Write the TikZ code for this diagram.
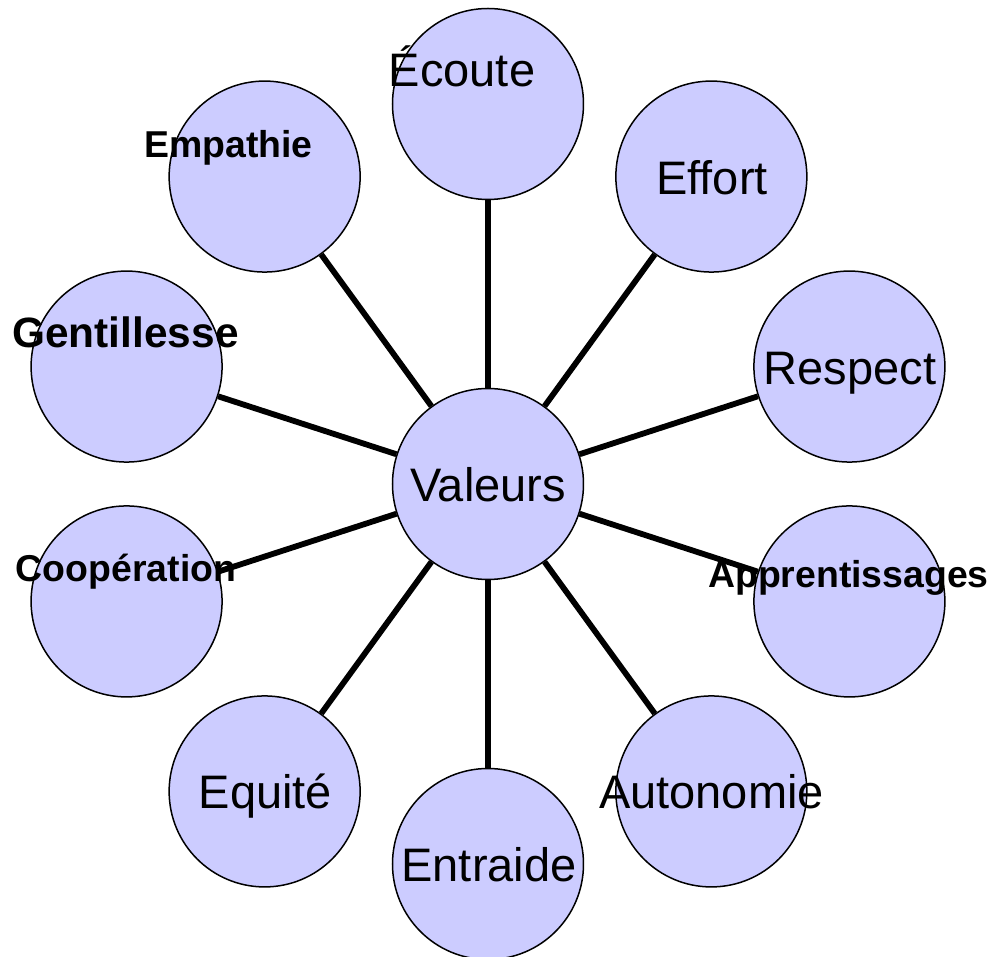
\documentclass[tikz,border=0pt]{standalone}
\usepackage{fontspec}
\setmainfont{Liberation Sans}
\definecolor{lavande}{RGB}{204,204,255}
\begin{document}
\begin{tikzpicture}
\tikzset{bulle/.style={draw, circle, fill=lavande, line width=0.75pt, minimum size=95.5pt, inner sep=0pt}}
\tikzset{lien/.style={line width=2.9pt}}
\tikzset{mot/.style={anchor=base, inner sep=0pt, font=\fontsize{23.5}{27}\selectfont}}
\tikzset{motgras/.style={anchor=base, inner sep=0pt, font=\fontsize{18.7}{22}\selectfont\bfseries}}
\useasboundingbox (-244pt, -236.5pt) rectangle (251.5pt, 242pt);
\node[bulle] (Valeurs) at (0, 0) {};
\node[bulle] (Ecoute) at (90:190pt) {};
\node[bulle] (Effort) at (54:190pt) {};
\node[bulle] (Respect) at (18:190pt) {};
\node[bulle] (Apprentissages) at (-18:190pt) {};
\node[bulle] (Autonomie) at (-54:190pt) {};
\node[bulle] (Entraide) at (-90:190pt) {};
\node[bulle] (Equite) at (-126:190pt) {};
\node[bulle] (Cooperation) at (-162:190pt) {};
\node[bulle] (Gentillesse) at (162:190pt) {};
\node[bulle] (Empathie) at (126:190pt) {};
\draw[lien] (Valeurs) -- (Ecoute);
\draw[lien] (Valeurs) -- (Effort);
\draw[lien] (Valeurs) -- (Respect);
\draw[lien] (Valeurs) -- (Apprentissages);
\draw[lien] (Valeurs) -- (Autonomie);
\draw[lien] (Valeurs) -- (Entraide);
\draw[lien] (Valeurs) -- (Equite);
\draw[lien] (Valeurs) -- (Cooperation);
\draw[lien] (Valeurs) -- (Gentillesse);
\draw[lien] (Valeurs) -- (Empathie);
\node[mot] (tValeurs) at (0pt, -9pt) {Valeurs};
\node[mot] (tEcoute) at (-13pt, 198.5pt) {Écoute};
\node[mot] (tEffort) at (112pt, 144.5pt) {Effort};
\node[mot] (tRespect) at (181pt, 49.5pt) {Respect};
\node[motgras] (tApprentissages) at (180.25pt, -52pt) {Apprentissages};
\node[mot] (tAutonomie) at (111.75pt, -162.5pt) {Autonomie};
\node[mot] (tEntraide) at (0.5pt, -199pt) {Entraide};
\node[mot] (tEquite) at (-111.25pt, -162.5pt) {Equité};
\node[motgras] (tCooperation) at (-181pt, -49pt) {Coopération};
\node[motgras, font=\fontsize{21.2}{25}\selectfont\bfseries] (tGentillesse) at (-181.25pt, 68pt) {Gentillesse};
\node[motgras] (tEmpathie) at (-129.75pt, 163pt) {Empathie};
\end{tikzpicture}
\end{document}
